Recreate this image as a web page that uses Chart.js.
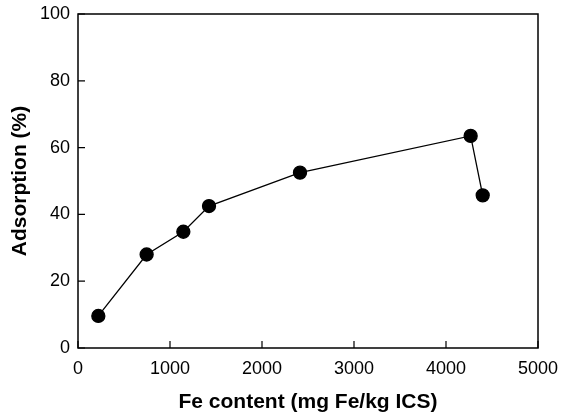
<!DOCTYPE html>
<html>
<head>
<meta charset="utf-8">
<script src="https://cdn.jsdelivr.net/npm/chart.js@4.4.1/dist/chart.umd.min.js"></script>
<style>
    html, body { margin: 0; padding: 0; background: #fff; }
    #wrap { width: 563px; height: 419px; }
</style>
</head>
<body>
<div id="wrap"><canvas id="adsorptionChart"></canvas></div>
<script>
// Fe content (mg Fe/kg ICS) vs adsorption (%)
const feContent = [221, 746, 1145, 1424, 2413, 4268, 4399];
const adsorption = [9.6, 28.0, 34.8, 42.5, 52.5, 63.5, 45.7];

const xTicks = [0, 1000, 2000, 3000, 4000, 5000];
const yTicks = [0, 20, 40, 60, 80, 100];

const points = [];
for (let i = 0; i < feContent.length; i++) {
    points.push({ x: feContent[i], y: adsorption[i] });
}

// draws the frame and the short inward ticks
const frameTicks = {
    id: 'frameTicks',
    afterDraw: function (chart) {
        var ctx = chart.ctx;
        var area = chart.chartArea;
        var xs = chart.scales.x;
        var ys = chart.scales.y;

        ctx.save();
        ctx.strokeStyle = '#000';
        ctx.lineWidth = 1.5;
        ctx.strokeRect(area.left, area.top, area.right - area.left, area.bottom - area.top);

        ctx.lineWidth = 1.2;
        ctx.beginPath();
        xTicks.forEach(function (v) {
            var px = xs.getPixelForValue(v);
            ctx.moveTo(px, area.bottom);
            ctx.lineTo(px, area.bottom - 7);
        });
        yTicks.forEach(function (v) {
            var py = ys.getPixelForValue(v);
            ctx.moveTo(area.left, py);
            ctx.lineTo(area.left + 7, py);
        });
        ctx.stroke();
        ctx.restore();
    }
};

const tickFont = { family: '"Liberation Sans", Arial, sans-serif', size: 18 };
const titleFont = { family: '"Liberation Sans", Arial, sans-serif', size: 21, weight: 'bold' };

new Chart(document.getElementById('adsorptionChart'), {
    type: 'scatter',
    data: {
        datasets: [{
            data: points,
            showLine: true,
            borderColor: '#000',
            borderWidth: 1.3,
            backgroundColor: '#000',
            pointBackgroundColor: '#000',
            pointBorderColor: '#000',
            pointRadius: 6.5,
            pointHoverRadius: 6.5
        }]
    },
    options: {
        responsive: true,
        maintainAspectRatio: false,
        animation: false,
        layout: {
            padding: { top: 14, right: 25, left: 0, bottom: 0 }
        },
        scales: {
            x: {
                type: 'linear',
                min: 0,
                max: 5000,
                afterFit: function (scale) {
                    scale.height = 71;
                    scale.paddingLeft = 0;
                    scale.paddingRight = 0;
                },
                afterBuildTicks: function (scale) {
                    scale.ticks = xTicks.map(function (v) { return { value: v }; });
                },
                grid: { display: false, drawTicks: false },
                border: { display: false },
                ticks: {
                    color: '#000',
                    font: tickFont,
                    padding: 10,
                    maxRotation: 0,
                    callback: function (value) { return String(value); }
                },
                title: {
                    display: true,
                    text: 'Fe content (mg Fe/kg ICS)',
                    color: '#000',
                    font: titleFont,
                    padding: { top: 0, bottom: 4 }
                }
            },
            y: {
                type: 'linear',
                min: 0,
                max: 100,
                afterFit: function (scale) {
                    scale.width = 78;
                    scale.paddingTop = 0;
                    scale.paddingBottom = 0;
                },
                afterBuildTicks: function (scale) {
                    scale.ticks = yTicks.map(function (v) { return { value: v }; });
                },
                grid: { display: false, drawTicks: false },
                border: { display: false },
                ticks: { color: '#000', font: tickFont, padding: 8 },
                title: {
                    display: true,
                    text: 'Adsorption (%)',
                    color: '#000',
                    font: titleFont,
                    padding: { top: 8, bottom: 0 }
                }
            }
        },
        plugins: {
            legend: { display: false },
            tooltip: { enabled: false }
        }
    },
    plugins: [frameTicks]
});
</script>
</body>
</html>
